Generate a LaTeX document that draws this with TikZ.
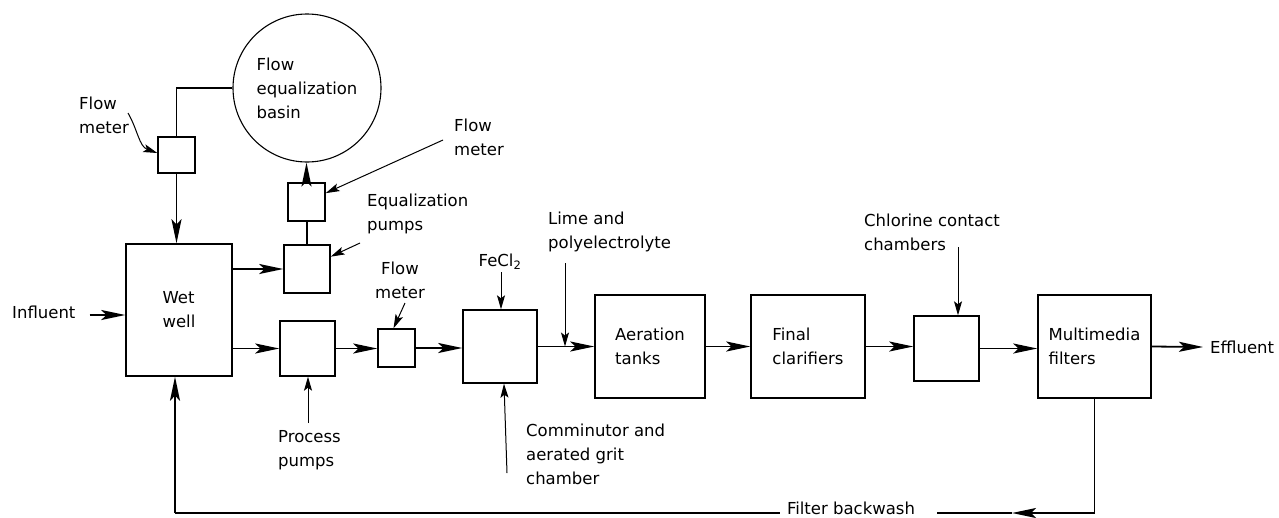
\documentclass[tikz,border=0pt]{standalone}
\usepackage{fontspec}
\setmainfont{DejaVu Sans}
\usetikzlibrary{arrows.meta,calc}
\begin{document}
\begin{tikzpicture}[x=1pt,y=-1pt,
  font=\fontsize{16.5}{24}\selectfont,
  box/.style={draw, line width=1.4pt, inner sep=0pt, align=left},
  lbl/.style={inner sep=0pt, align=left, anchor=west},
  flow/.style={line width=1.8pt, -{Stealth[length=24pt,width=10pt,inset=5pt]}},
  pipe/.style={line width=1.8pt},
  ptr/.style={line width=1pt, -{Stealth[length=14pt,width=8pt,inset=3pt]}},
]
\useasboundingbox (0,0) rectangle (1279,517);

% equipment
\node[circle, draw, line width=1.1pt, minimum size=148pt, inner sep=0pt, align=left] (eqb) at (307,88) {Flow\\equalization\\basin};
\node[box, minimum width=37pt, minimum height=36pt] (fm1) at (176.5,155) {};
\node[box, minimum width=37pt, minimum height=38pt] (fm2) at (306.5,202) {};
\node[box, minimum width=46pt, minimum height=48pt] (eqp) at (307,269) {};
\node[box, minimum width=106pt, minimum height=132pt] (ww) at (179,310) {Wet\\well};
\node[box, minimum width=55pt, minimum height=55pt] (pp) at (307.5,348.5) {};
\node[box, minimum width=37pt, minimum height=38pt] (fm3) at (396.5,348) {};
\node[box, minimum width=74pt, minimum height=73pt] (cg) at (500,346.5) {};
\node[box, minimum width=110pt, minimum height=103pt] (at) at (650,346.5) {Aeration\\tanks};
\node[box, minimum width=114pt, minimum height=103pt] (fc) at (808,346.5) {Final\\clarifiers};
\node[box, minimum width=65pt, minimum height=65pt] (cc) at (946.5,348.5) {};
\node[box, minimum width=113pt, minimum height=103pt] (mf) at (1094.5,346.5) {Multimedia\\filters};

% labels
\node[lbl] (lfm1) at (79,115) {Flow\\meter};
\node[lbl] (lfm2) at (454,137) {Flow\\meter};
\node[lbl] (leqp) at (367,214) {Equalization\\pumps};
\node[lbl] (llime) at (548,232) {Lime and\\polyelectrolyte};
\node[inner sep=0pt] (lfe) at (500,262) {FeCl\textsubscript{2}};
\node[inner sep=0pt, align=center] (lfm3) at (400,280) {Flow\\meter};
\node[lbl] (lpp) at (278,450) {Process\\pumps};
\node[lbl] (lcg) at (526,454) {Comminutor and\\aerated grit\\chamber};
\node[lbl] (lcc) at (864,232) {Chlorine contact\\chambers};
\node[lbl] (inf) at (12,312) {Influent};
\node[lbl] (eff) at (1210,347) {Effluent};
\node[inner sep=0pt] (lfb) at (851,508) {Filter backwash};

% main flow
\coordinate (infA) at ($(inf.east)+(14,3)$);
\draw[flow] (infA) -- (infA -| ww.west);
\draw[pipe, line width=1.1pt] (eqb.west) -| (fm1.north);
\draw[flow] (fm1.south) -- (fm1.south |- ww.north);
\draw[flow] (ww.east |- eqp.west) -- (eqp.west);
\draw[pipe] (eqp.north) -- (eqp.north |- fm2.south);
\draw[flow] (fm2.north) -- (fm2.north |- eqb.south);
\draw[flow] (ww.east |- pp.west) -- (pp.west);
\draw[flow] (pp.east) -- (pp.east -| fm3.west);
\draw[flow] (fm3.east) -- (fm3.east -| cg.west);
\draw[flow] (cg.east) -- (at.west);
\draw[flow] (at.east) -- (fc.west);
\draw[flow] (fc.east) -- (fc.east -| cc.west);
\draw[flow] (cc.east) -- (cc.east -| mf.west);
\draw[flow] (mf.east) -- ($(eff.west)+(-7,0)$);

% backwash
\coordinate (bwy) at (0,513);
\coordinate (bwR) at (mf.south |- bwy);
\coordinate (bwA) at (1012,513);
\coordinate (bwL) at (175,513);
\draw[flow] (mf.south) -- (bwR) -- (bwA);
\draw[pipe] (bwA) -- ($(lfb.east |- bwy)+(22,0)$);
\draw[pipe] ($(lfb.west |- bwy)+(-7,0)$) -- (bwL);
\draw[flow] (bwL) -- (bwL |- ww.south);

% pointers
\coordinate (p1) at (128,113);
\draw[ptr] (p1) to[out=-60,in=160] ($(fm1.west)+(0,-2)$);
\coordinate (p2) at (443,140);
\draw[ptr] (p2) -- ($(fm2.east)!0.45!(fm2.north east)$);
\coordinate (p3) at (360,243);
\draw[ptr] (p3) -- ($(eqp.east)!0.5!(eqp.north east)$);
\coordinate (p4) at (405,303);
\draw[ptr] (p4) -- ($(fm3.north)+(-3,0)$);
\coordinate (p5) at (308,423);
\draw[ptr] (p5) -- (p5 |- pp.south);
\coordinate (p6) at (501,272);
\draw[ptr] (p6) -- (p6 |- cg.north);
\coordinate (p7) at (507,473);
\draw[ptr] (p7) -- ($(cg.south)+(4,0)$);
\coordinate (p8) at (565,263);
\draw[ptr] (p8) -- (p8 |- at.west);
\coordinate (p9) at (958,247);
\draw[ptr] (p9) -- (p9 |- cc.north);
\end{tikzpicture}
\end{document}
